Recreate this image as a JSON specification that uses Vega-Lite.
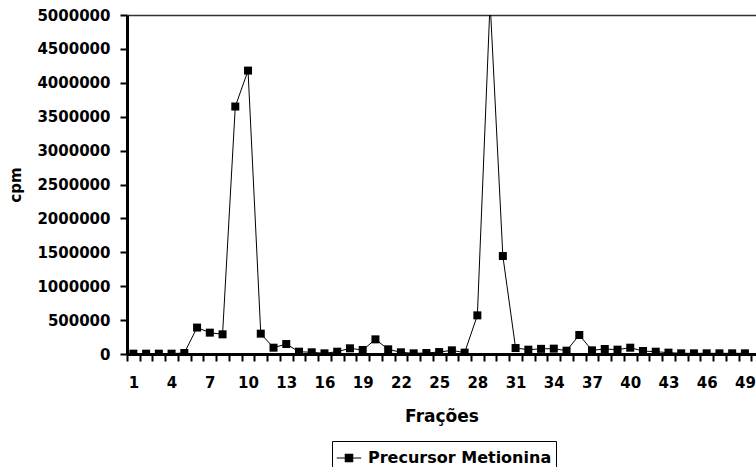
{
  "$schema": "https://vega.github.io/schema/vega-lite/v6.json",
  "autosize": "none",
  "width": 629,
  "height": 339,
  "padding": {"left": 127, "top": 15, "right": 0, "bottom": 113},
  "background": "white",
  "config": {
    "view": {"stroke": null},
    "font": "DejaVu Sans",
    "axis": {
      "labelFont": "DejaVu Sans",
      "labelFontWeight": "bold",
      "labelColor": "black",
      "titleFont": "DejaVu Sans",
      "titleFontWeight": "bold",
      "titleColor": "black",
      "domainColor": "black",
      "tickColor": "black"
    }
  },
  "data": {
    "values": [
      {"fracao": 1, "cpm": 5000},
      {"fracao": 2, "cpm": 5000},
      {"fracao": 3, "cpm": 5000},
      {"fracao": 4, "cpm": 5000},
      {"fracao": 5, "cpm": 15000},
      {"fracao": 6, "cpm": 390000},
      {"fracao": 7, "cpm": 315000},
      {"fracao": 8, "cpm": 290000},
      {"fracao": 9, "cpm": 3650000},
      {"fracao": 10, "cpm": 4180000},
      {"fracao": 11, "cpm": 300000},
      {"fracao": 12, "cpm": 93000},
      {"fracao": 13, "cpm": 147000},
      {"fracao": 14, "cpm": 34000},
      {"fracao": 15, "cpm": 25000},
      {"fracao": 16, "cpm": 10000},
      {"fracao": 17, "cpm": 34000},
      {"fracao": 18, "cpm": 84000},
      {"fracao": 19, "cpm": 59000},
      {"fracao": 20, "cpm": 216000},
      {"fracao": 21, "cpm": 69000},
      {"fracao": 22, "cpm": 25000},
      {"fracao": 23, "cpm": 10000},
      {"fracao": 24, "cpm": 15000},
      {"fracao": 25, "cpm": 29000},
      {"fracao": 26, "cpm": 54000},
      {"fracao": 27, "cpm": 20000},
      {"fracao": 28, "cpm": 570000},
      {"fracao": 29, "cpm": 5200000},
      {"fracao": 30, "cpm": 1445000},
      {"fracao": 31, "cpm": 88000},
      {"fracao": 32, "cpm": 64000},
      {"fracao": 33, "cpm": 76000},
      {"fracao": 34, "cpm": 79000},
      {"fracao": 35, "cpm": 49000},
      {"fracao": 36, "cpm": 280000},
      {"fracao": 37, "cpm": 54000},
      {"fracao": 38, "cpm": 74000},
      {"fracao": 39, "cpm": 64000},
      {"fracao": 40, "cpm": 93000},
      {"fracao": 41, "cpm": 44000},
      {"fracao": 42, "cpm": 34000},
      {"fracao": 43, "cpm": 20000},
      {"fracao": 44, "cpm": 10000},
      {"fracao": 45, "cpm": 10000},
      {"fracao": 46, "cpm": 10000},
      {"fracao": 47, "cpm": 10000},
      {"fracao": 48, "cpm": 10000},
      {"fracao": 49, "cpm": 10000}
    ]
  },
  "encoding": {
    "x": {
      "field": "fracao",
      "type": "quantitative",
      "scale": {"domain": [0.5, 49.87], "nice": false, "zero": false},
      "axis": {
        "title": "Frações",
        "titleFontSize": 17,
        "titlePadding": 18,
        "grid": false,
        "values": [0.5, 1.5, 2.5, 3.5, 4.5, 5.5, 6.5, 7.5, 8.5, 9.5, 10.5, 11.5, 12.5, 13.5, 14.5, 15.5, 16.5, 17.5, 18.5, 19.5, 20.5, 21.5, 22.5, 23.5, 24.5, 25.5, 26.5, 27.5, 28.5, 29.5, 30.5, 31.5, 32.5, 33.5, 34.5, 35.5, 36.5, 37.5, 38.5, 39.5, 40.5, 41.5, 42.5, 43.5, 44.5, 45.5, 46.5, 47.5, 48.5, 49.5],
        "labelExpr": "(datum.value + 0.5) % 3 == 1 ? format(datum.value + 0.5, 'd') : ''",
        "labelOffset": 6.37,
        "labelFontSize": 15,
        "labelPadding": 14,
        "labelOverlap": false,
        "labelFlush": false,
        "tickSize": 7,
        "tickWidth": 2,
        "domainWidth": 3
      }
    },
    "y": {
      "field": "cpm",
      "type": "quantitative",
      "scale": {"domain": [0, 5000000], "nice": false},
      "axis": {
        "title": "cpm",
        "titleFontSize": 15,
        "titlePadding": 13,
        "values": [0, 500000, 1000000, 1500000, 2000000, 2500000, 3000000, 3500000, 4000000, 4500000, 5000000],
        "format": "d",
        "labelFontSize": 15,
        "labelPadding": 10,
        "labelOverlap": false,
        "tickSize": 7,
        "tickWidth": 2,
        "domainWidth": 3,
        "grid": true,
        "gridColor": "#333333",
        "gridWidth": 1.5,
        "gridOpacity": {"condition": {"test": "datum.value == 5000000", "value": 1}, "value": 0}
      }
    }
  },
  "layer": [
    {
      "mark": {"type": "line", "color": "black", "strokeWidth": 1, "clip": true},
      "encoding": {
        "color": {
          "datum": "Precursor Metionina",
          "type": "nominal",
          "scale": {"range": ["black"]},
          "legend": {
            "title": null,
            "orient": "none",
            "legendX": 205,
            "legendY": 426,
            "strokeColor": "black",
            "padding": 4,
            "symbolType": "M-1,0H1M-0.3,-0.3H0.3V0.3H-0.3Z",
            "symbolSize": 600,
            "symbolStrokeWidth": 1.2,
            "symbolStrokeColor": "black",
            "symbolFillColor": "black",
            "labelFont": "DejaVu Sans",
            "labelFontWeight": "bold",
            "labelFontSize": 16,
            "labelColor": "black",
            "labelOffset": 6,
            "labelLimit": 400
          }
        }
      }
    },
    {
      "mark": {"type": "point", "shape": "square", "filled": true, "size": 64, "opacity": 1, "clip": true},
      "encoding": {
        "color": {"datum": "Precursor Metionina", "type": "nominal"}
      }
    }
  ]
}
